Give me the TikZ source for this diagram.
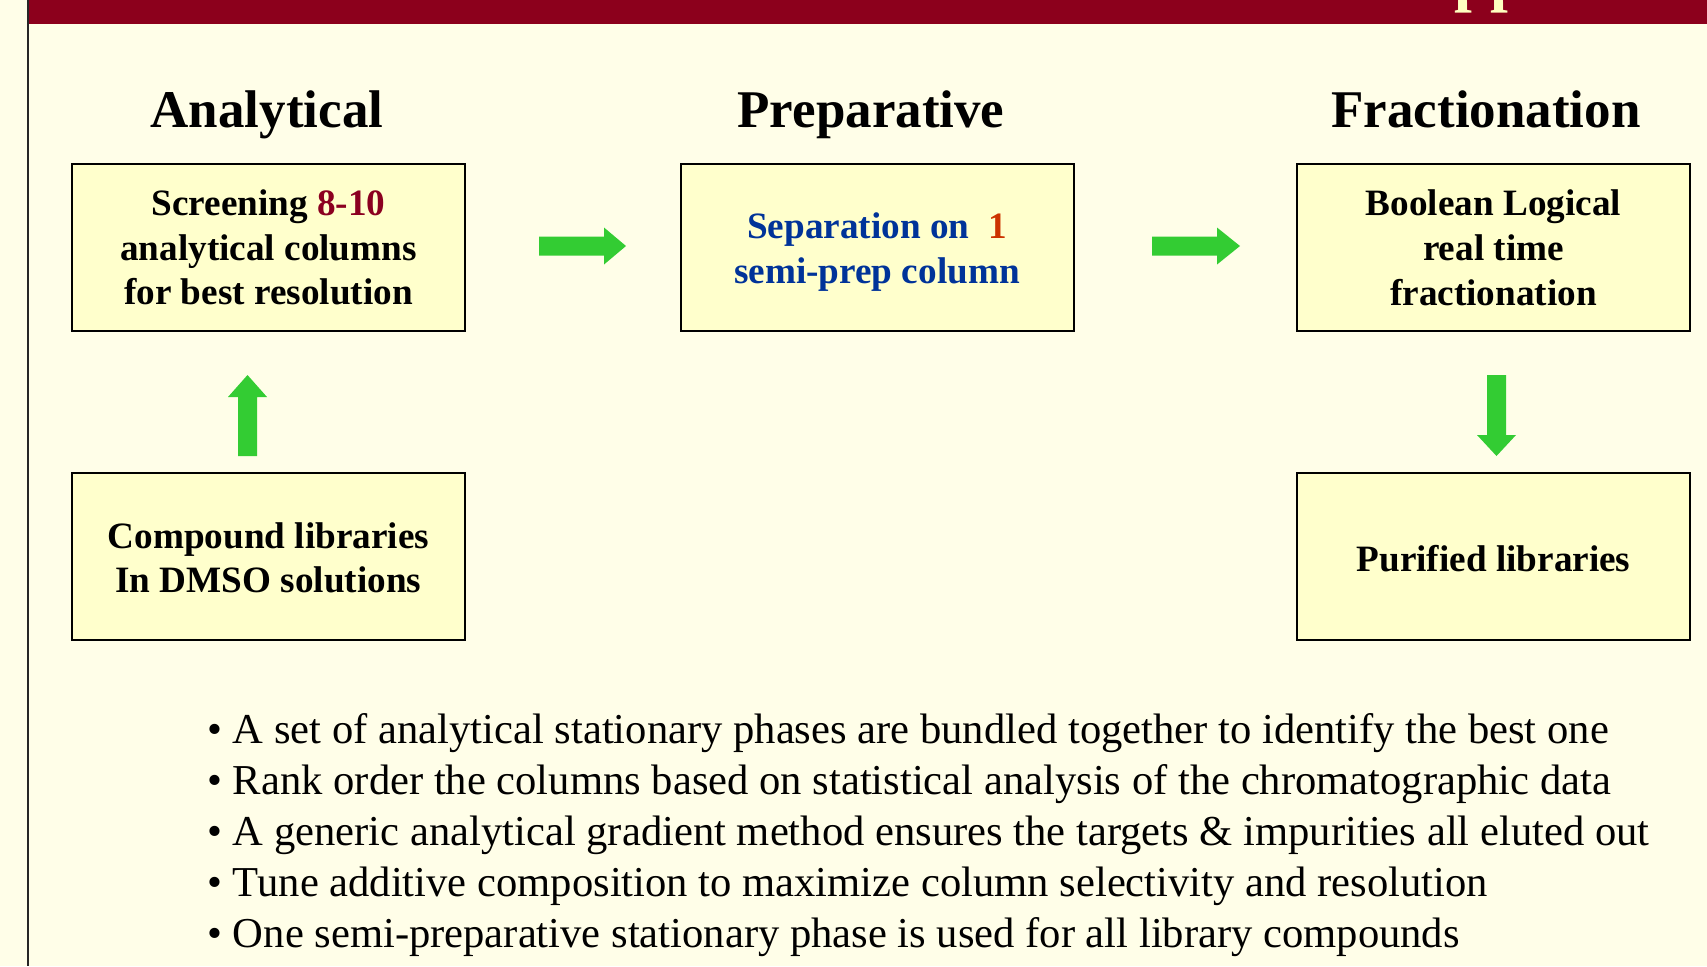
\documentclass[tikz,border=0pt]{standalone}
\usepackage{fontspec}
\setmainfont{Liberation Serif}
\definecolor{bgcream}{HTML}{FFFEE8}
\definecolor{boxfill}{HTML}{FFFFCC}
\definecolor{band}{HTML}{8C001C}
\definecolor{arrowgreen}{HTML}{33CC33}
\definecolor{numred}{HTML}{8B0020}
\definecolor{sepblue}{HTML}{003399}
\definecolor{oneorange}{HTML}{CC3300}
\definecolor{titleyellow}{HTML}{FFFFC0}
\begin{document}
\begin{tikzpicture}[x=0.5pt,y=-0.5pt,
  stagebox/.style={draw=black,line width=1pt,fill=boxfill,rectangle,
    minimum width=196.5pt,minimum height=83.5pt,inner sep=0pt,align=center,
    font=\fontsize{18.6}{22.3}\selectfont\bfseries},
  stagetitle/.style={anchor=base,inner sep=0pt,font=\fontsize{26.5}{30}\selectfont\bfseries},
  bulletline/.style={anchor=base west,inner sep=0pt,font=\fontsize{21.3}{25.7}\selectfont},
  blockarrow/.style={fill=arrowgreen}]
\useasboundingbox (0,0) rectangle (1707,966);
\fill[bgcream] (0,0) rectangle (1707,966);
% top band with cut-off title
\fill[band] (29,0) rectangle (1707,24);
\begin{scope}
\clip (29,0) rectangle (1707,24);
\node[anchor=base west,inner sep=0pt,text=titleyellow,font=\fontsize{32}{36}\selectfont\bfseries] (ttl) at (1454,-1) {pp};
\end{scope}
\draw[line width=1pt,color=black!85] (28,0) -- (28,966);
% stage titles
\node[stagetitle] (tA) at (267,127) {Analytical};
\node[stagetitle] (tP) at (871,127) {Preparative};
\node[stagetitle] (tF) at (1486,127) {Fractionation};
% boxes
\node[stagebox] (screen) at (268.5,247) {\rule{0pt}{13.6pt}Screening \textcolor{numred}{8-10}\\analytical columns\\for best resolution};
\node[stagebox] (sep) at (877,247) {\rule{0pt}{18pt}\textcolor{sepblue}{Separation on}\ \ \textcolor{oneorange}{1}\\\textcolor{sepblue}{semi-prep column}};
\node[stagebox] (bool) at (1493.5,247) {\rule{0pt}{13.6pt}Boolean Logical\\real time\\fractionation};
\node[stagebox] (comp) at (268.5,556) {\rule{0pt}{14.8pt}Compound libraries\\In DMSO solutions};
\node[stagebox] (pure) at (1493.5,556) {\rule{0pt}{15.9pt}Purified libraries};
% block arrows
\fill[blockarrow] (539,236.5) -- (604,236.5) -- (604,227.5) -- (626,246) -- (604,264.5) -- (604,255.5) -- (539,255.5) -- cycle;
\fill[blockarrow] (1152,236.5) -- (1217,236.5) -- (1217,227.5) -- (1240,246) -- (1217,264.5) -- (1217,255.5) -- (1152,255.5) -- cycle;
\fill[blockarrow] (238,456) -- (238,397) -- (228,397) -- (247.5,375) -- (267,397) -- (257,397) -- (257,456) -- cycle;
\fill[blockarrow] (1487,375) -- (1487,435) -- (1477,435) -- (1496.5,456) -- (1516,435) -- (1506,435) -- (1506,375) -- cycle;
% bullet text
\node[bulletline] (l1) at (207,743) {• A set of analytical stationary phases are bundled together to identify the best one};
\node[bulletline] (l2) at (207,794) {• Rank order the columns based on statistical analysis of the chromatographic data};
\node[bulletline] (l3) at (207,845) {• A generic analytical gradient method ensures the targets \& impurities all eluted out};
\node[bulletline] (l4) at (207,896) {• Tune additive composition to maximize column selectivity and resolution};
\node[bulletline] (l5) at (207,947) {• One semi-preparative stationary phase is used for all library compounds};
\end{tikzpicture}
\end{document}
